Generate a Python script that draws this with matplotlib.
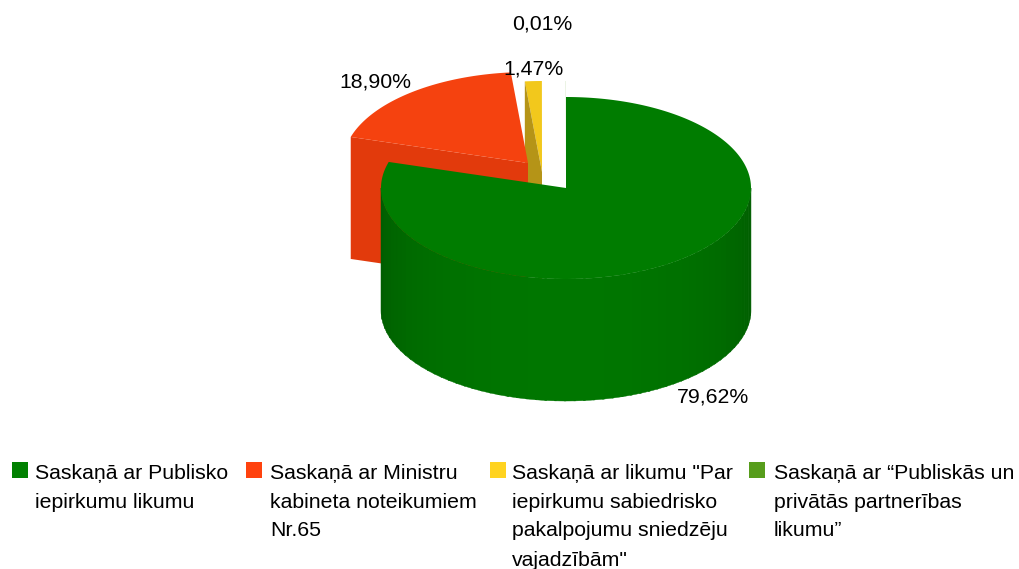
import numpy as np
import matplotlib
matplotlib.use('Agg')
import matplotlib.pyplot as plt
from matplotlib.patches import Polygon, Rectangle

plt.rcParams['font.family'] = ['Liberation Sans', 'DejaVu Sans']

# data
values = [79.62, 18.90, 1.47, 0.01]
value_labels = ['79,62%', '18,90%', '1,47%', '0,01%']
legend_lines = [
    ['Saskaņā ar Publisko', 'iepirkumu likumu'],
    ['Saskaņā ar Ministru', 'kabineta noteikumiem', 'Nr.65'],
    ['Saskaņā ar likumu "Par', 'iepirkumu sabiedrisko', 'pakalpojumu sniedzēju', 'vajadzībām"'],
    ['Saskaņā ar “Publiskās un', 'privātās partnerības', 'likumu”'],
]

# styles
top_colors = ['#007c00', '#f5420f', '#f2c81c', '#579d1c']
cut_colors = ['#006a00', '#e23a0c', '#b59417', '#4a8a18']
legend_colors = ['#008000', '#ff420e', '#ffd320', '#579d1c']
centers = [(566, 188), (528, 163), (542, 172), (566, 172)]
label_pos = [(713, 397), (375, 82), (534, 69), (542, 24)]
legend_box_x = [12, 246, 490, 749]
legend_text_x = [35, 270, 512, 774]
rx, ry, depth = 185, 91, 122
fs = 15.3


def rim(c, a0, a1):
    # angles in degrees, clockwise from 12 o'clock
    t = np.radians(np.linspace(a0, a1, max(int(abs(a1 - a0)) + 2, 2)))
    return np.column_stack([c[0] + rx*np.sin(t), c[1] - ry*np.cos(t)])


edges = np.concatenate([[0], np.cumsum(values)/np.sum(values)*360])

fig = plt.figure(figsize=(10.2, 5.69), dpi=100)
ax = fig.add_axes([0, 0, 1, 1])
ax.set_xlim(0, 1020)
ax.set_ylim(569, 0)
ax.axis('off')

# painter's order: tiny slice, yellow, red, green
for i in [3, 2, 1, 0]:
    c = centers[i]
    a0, a1 = edges[i], edges[i+1]
    p0 = rim(c, a0, a0)[0]
    top = np.vstack([[c], rim(c, a0, a1)])
    cut = [c, p0, p0 + [0, depth], np.add(c, [0, depth])]

    if i == 3:
        ax.add_patch(Polygon(top, fc=top_colors[i], ec='none', lw=0))
    elif i == 2:
        ax.add_patch(Polygon(top, fc=top_colors[i], ec='none'))
        ax.add_patch(Polygon(cut, fc=cut_colors[i], ec='none'))
    elif i == 1:
        ax.add_patch(Polygon(cut, fc=cut_colors[i], ec='none'))
        ax.add_patch(Polygon(top, fc=top_colors[i], ec='none'))
    else:
        # outer wall, only the front half shows
        for s in np.arange(90, 270, 3.0):
            arc = rim(c, s, min(s + 3.6, 270))
            wall = np.vstack([arc, arc[::-1] + [0, depth]])
            k = np.clip(np.cos(np.radians(s + 1.5 - 180)), 0, 1)
            shade = (0, (0x5c + (0x76 - 0x5c)*k)/255, 0)
            ax.add_patch(Polygon(wall, fc=shade, ec=shade, lw=0.3))
        ax.add_patch(Polygon(top, fc=top_colors[i], ec='none'))

for (x, y), s in zip(label_pos, value_labels):
    ax.text(x, y, s, ha='center', va='center', fontsize=fs, color='black')

for i, lines in enumerate(legend_lines):
    ax.add_patch(Rectangle((legend_box_x[i], 462), 16, 16, fc=legend_colors[i], ec='none'))
    for j, line in enumerate(lines):
        ax.text(legend_text_x[i], 473 + 29*j, line, ha='left', va='center',
                fontsize=fs, color='black')

fig.savefig('out.png', dpi=100)
